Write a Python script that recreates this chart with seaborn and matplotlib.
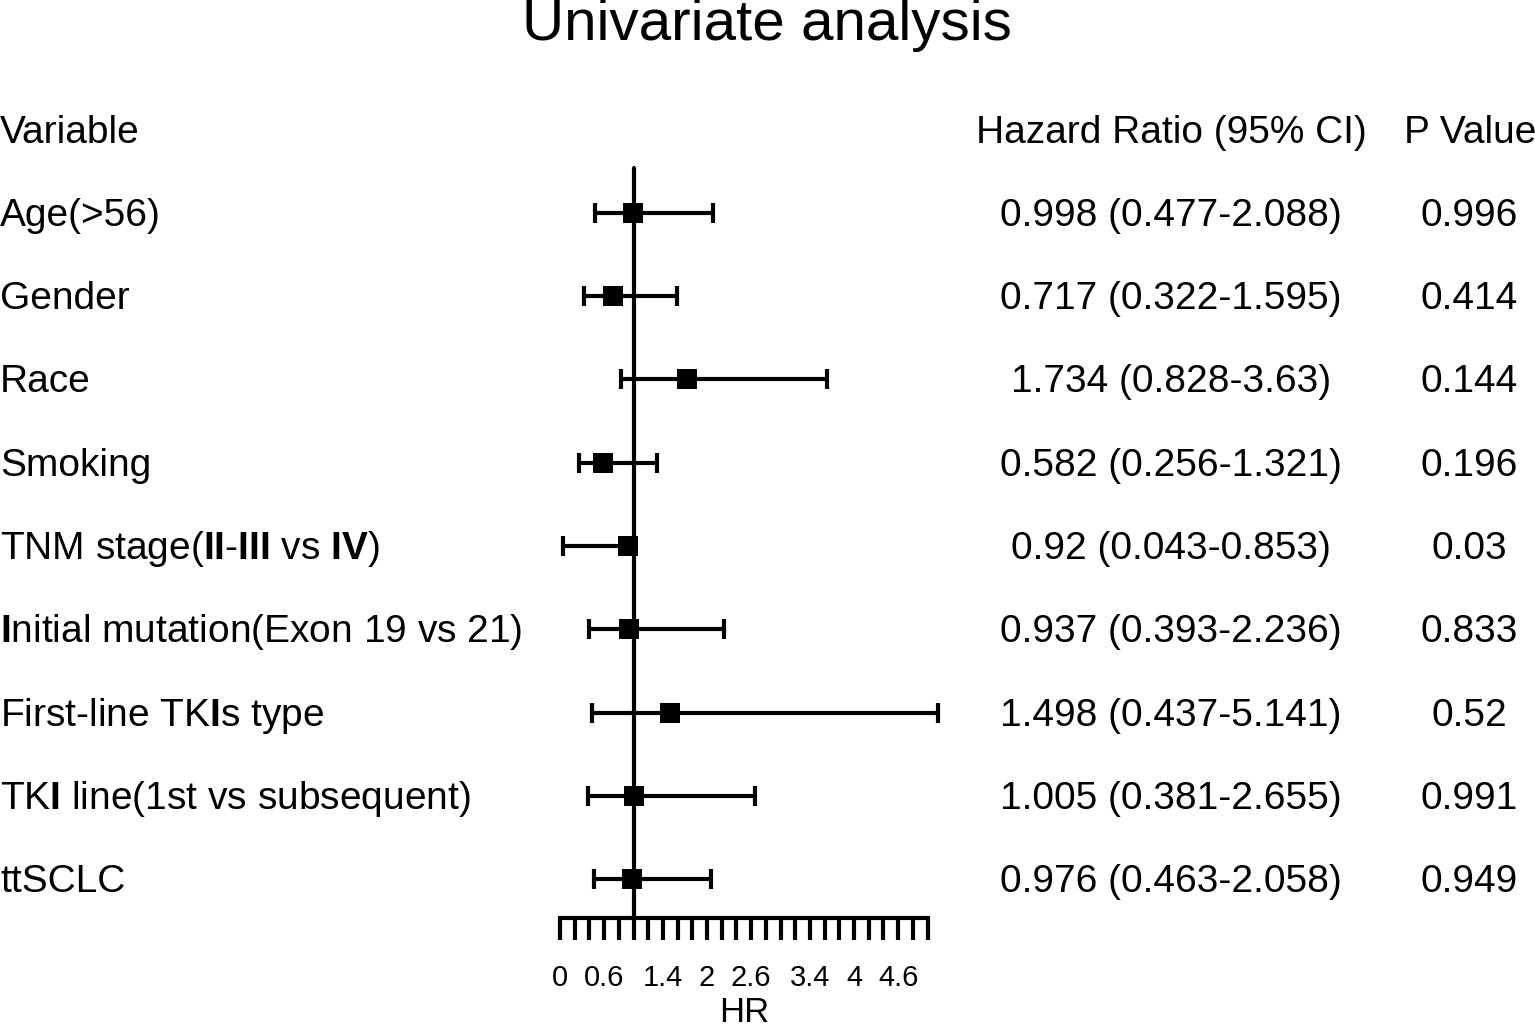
import numpy as np
import pandas as pd
import matplotlib
matplotlib.use("Agg")
import matplotlib.pyplot as plt
import matplotlib.transforms as mtransforms
import seaborn as sns

# data
variables = [
    "Age(>56)",
    "Gender",
    "Race",
    "Smoking",
    r"TNM stage($\mathbf{II}$-$\mathbf{III}$ vs $\mathbf{IV}$)",
    r"$\mathbf{I}$nitial mutation(Exon 19 vs 21)",
    r"First-line TK$\mathbf{I}$s type",
    r"TK$\mathbf{I}$ line(1st vs subsequent)",
    "ttSCLC",
]
hr = [0.998, 0.717, 1.734, 0.582, 0.92, 0.937, 1.498, 1.005, 0.976]
ci_low = [0.477, 0.322, 0.828, 0.256, 0.043, 0.393, 0.437, 0.381, 0.463]
ci_high = [2.088, 1.595, 3.63, 1.321, 0.853, 2.236, 5.141, 2.655, 2.058]
p_values = ["0.996", "0.414", "0.144", "0.196", "0.03", "0.833", "0.52", "0.991", "0.949"]
hr_text = [
    "0.998 (0.477-2.088)",
    "0.717 (0.322-1.595)",
    "1.734 (0.828-3.63)",
    "0.582 (0.256-1.321)",
    "0.92 (0.043-0.853)",
    "0.937 (0.393-2.236)",
    "1.498 (0.437-5.141)",
    "1.005 (0.381-2.655)",
    "0.976 (0.463-2.058)",
]
tick_values = np.round(np.arange(0, 5.01, 0.2), 1)
labelled_ticks = [0, 0.6, 1.4, 2, 2.6, 3.4, 4, 4.6]

df = pd.DataFrame({"var": variables, "hr": hr, "lo": ci_low, "hi": ci_high})
df["row"] = np.arange(len(df))

sns.set_theme(style="white")
plt.rcParams["font.family"] = ["Liberation Sans", "DejaVu Sans"]
plt.rcParams["mathtext.fontset"] = "custom"
plt.rcParams["mathtext.rm"] = "Liberation Sans"
plt.rcParams["mathtext.bf"] = "Liberation Sans:bold"
plt.rcParams["text.color"] = "black"
plt.rcParams["axes.labelcolor"] = "black"
plt.rcParams["xtick.color"] = "black"

W, H = 1535, 1031
fig = plt.figure(figsize=(W / 100, H / 100), dpi=100)

# forest axis placed in pixel terms
ax_l, ax_r = 560, 927.5
ax_top, ax_bot = 168, 918
ax = fig.add_axes([ax_l / W, (H - ax_bot) / H, (ax_r - ax_l) / W, (ax_bot - ax_top) / H])

row_h = 83.33
ax.set_xlim(0, 5.0)
ax.set_ylim(8 + (ax_bot - 879) / row_h, -(213 - ax_top) / row_h)

# reference line at HR = 1
ax.axvline(1, color="black", lw=3, zorder=1, clip_on=False)

# upper bound below the estimate (TNM row) -> whisker only to the left
err_lo = np.clip(df["hr"] - df["lo"], 0, None)
err_hi = np.clip(df["hi"] - df["hr"], 0, None)
ax.errorbar(df["hr"], df["row"], xerr=[err_lo, err_hi],
            fmt="none", ecolor="black", elinewidth=3, capsize=7, capthick=3,
            zorder=2, clip_on=False)

sns.scatterplot(data=df, x="hr", y="row", marker="s", s=210, color="black",
                edgecolor="black", linewidth=0, zorder=3, ax=ax, clip_on=False)

for side in ["top", "right", "left"]:
    ax.spines[side].set_visible(False)
ax.spines["bottom"].set_linewidth(3)
ax.spines["bottom"].set_color("black")
ax.set_yticks([])
ax.set_ylabel("")
ax.set_xticks(tick_values)
ax.set_xticklabels([("%g" % t) if t in labelled_ticks else "" for t in tick_values])
ax.tick_params(axis="x", bottom=True, direction="out", length=16, width=3,
               color="black", pad=17, labelsize=21)
ax.set_xlabel("HR", fontsize=25, labelpad=3)

# text columns
tr = mtransforms.blended_transform_factory(fig.transFigure, ax.transData)
fs = 28
dy = 3 / row_h
header_y = -(213 - 130) / row_h + dy
ax.text(0 / W, header_y, "Variable", transform=tr, ha="left", va="center", fontsize=fs, clip_on=False)
ax.text(1171 / W, header_y, "Hazard Ratio (95% CI)", transform=tr, ha="center", va="center", fontsize=fs, clip_on=False)
ax.text(1470 / W, header_y, "P Value", transform=tr, ha="center", va="center", fontsize=fs, clip_on=False)
for i in range(len(variables)):
    ax.text(0 / W, i + dy, variables[i], transform=tr, ha="left", va="center", fontsize=fs, clip_on=False)
    ax.text(1171 / W, i + dy, hr_text[i], transform=tr, ha="center", va="center", fontsize=fs, clip_on=False)
    ax.text(1469 / W, i + dy, p_values[i], transform=tr, ha="center", va="center", fontsize=fs, clip_on=False)

fig.text(767 / W, 1 - 25 / H, "Univariate analysis", ha="center", va="center", fontsize=42)

fig.savefig("out.png", dpi=100)
